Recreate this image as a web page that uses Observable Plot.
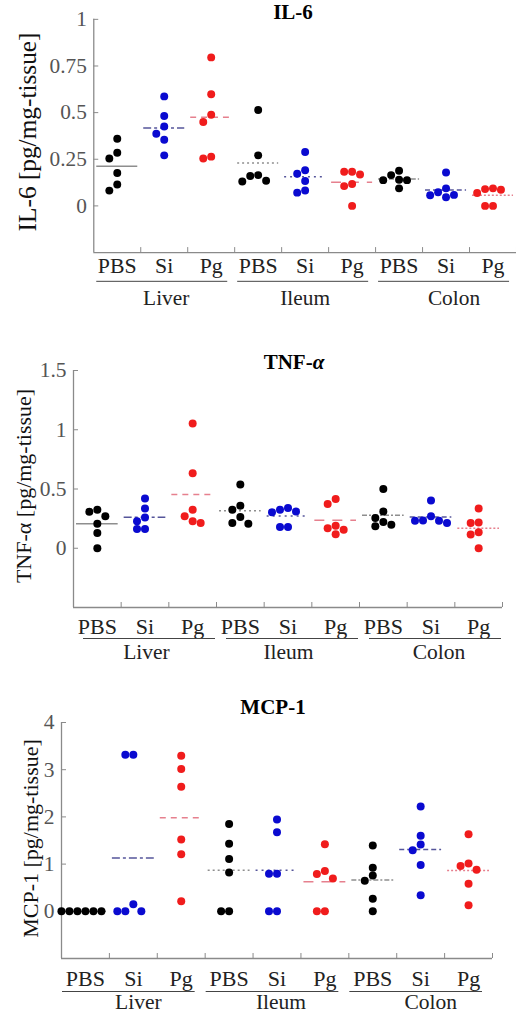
<!DOCTYPE html>
<html><head><meta charset="utf-8">
<script src="https://cdn.jsdelivr.net/npm/d3@7"></script>
<script src="https://cdn.jsdelivr.net/npm/@observablehq/plot@0.6"></script>
<style>
html,body{margin:0;padding:0;background:#fff;overflow:hidden;width:516px;height:1013px}
#root{position:relative;width:516px;height:1013px;overflow:hidden}
.panel{position:absolute;left:0}
.panel svg text{font-family:'Liberation Serif','Times New Roman',serif}
.title{position:absolute;font-family:'Liberation Serif','Times New Roman',serif;font-weight:bold;font-size:21px;line-height:1;text-align:center;width:200px;color:#000;white-space:nowrap}
</style></head><body><div id="root"></div>
<script>
// ---- categories ----
const tissues = ["Liver", "Ileum", "Colon"];
const treatments = ["PBS", "Si", "Pg"];

// ---- values (cells in order: Liver PBS, Si, Pg, Ileum PBS, Si, Pg, Colon PBS, Si, Pg) ----
const il6Values = [
  [0.36, 0.285, 0.254, 0.176, 0.115, 0.082],
  [0.587, 0.482, 0.426, 0.387, 0.355, 0.271],
  [0.796, 0.598, 0.489, 0.45, 0.264, 0.254],
  [0.514, 0.271, 0.165, 0.16, 0.135, 0.131],
  [0.289, 0.191, 0.172, 0.133, 0.083, 0.071],
  [0.183, 0.183, 0.168, 0.117, 0.106, 0.0],
  [0.188, 0.165, 0.14, 0.138, 0.138, 0.094],
  [0.179, 0.094, 0.073, 0.059, 0.057, 0.046],
  [0.094, 0.09, 0.087, 0.069, 0.0, 0.0]
];
const tnfValues = [
  [0.325, 0.308, 0.269, 0.207, 0.129, 0.0],
  [0.42, 0.336, 0.26, 0.227, 0.162, 0.162],
  [1.053, 0.633, 0.325, 0.269, 0.227, 0.213],
  [0.538, 0.359, 0.325, 0.263, 0.213, 0.207],
  [0.339, 0.325, 0.311, 0.303, 0.179, 0.179],
  [0.415, 0.373, 0.19, 0.168, 0.157, 0.118],
  [0.501, 0.311, 0.255, 0.221, 0.199, 0.185],
  [0.403, 0.269, 0.235, 0.232, 0.232, 0.213],
  [0.336, 0.218, 0.213, 0.134, 0.115, 0.0]
];
const mcpValues = [
  [0, 0, 0, 0, 0, 0],
  [3.317, 3.317, 0.148, 0, 0, 0],
  [3.296, 3.014, 2.641, 1.521, 1.211, 0.211],
  [1.852, 1.43, 1.106, 0.824, 0, 0],
  [1.944, 1.676, 0.796, 0.796, 0, 0],
  [1.423, 0.852, 0.789, 0.697, 0, 0],
  [1.394, 0.923, 0.761, 0.648, 0.268, 0],
  [2.218, 1.599, 1.415, 1.296, 0.979, 0.338],
  [1.634, 1.014, 0.958, 0.88, 0.585, 0.127]
];

// ---- tick labels & domains ----
const il6Ticks = [0, 0.25, 0.5, 0.75, 1];
const tnfTicks = [0, 0.5, 1, 1.5];
const mcpTicks = [0, 1, 2, 3, 4];
const il6Domain = [-0.25, 1];
const tnfDomain = [-0.5, 1.5];
const mcpDomain = [-1, 4];

// ---- styles ----
const dotColors = ["#000000", "#0a0ad0", "#f01c1c"];
const meanColors = ["#8e8e8e", "#55559a", "#e6808e"];
const meanDashes = ["none", "8,3,3,3", "6,5", "2,3", "2,4", "10,8", "5,2,2,2", "5,3", "2,2"];
const axisColor = "#8a8a8a";
const dotR = 4, dotStep = 8;

const panels = [
  {title: "IL-6", ylabel: "IL-6 [pg/mg-tissue]", values: il6Values, ticks: il6Ticks, domain: il6Domain,
   top: 0, width: 520, height: 320, mL: 94, mR: 0, mT: 19, frameBottom: 254,
   titleCx: 293, titleBase: 20, ylabSize: 25.5, ylabDx: -58, ylabDy: -4,
   catDy: 21, underDy: 29, underInset: [3, 7], groupDy: 53, groupDx: [2, 0, 8]},
  {title: "TNF-<i>α</i>", ylabel: "TNF-α [pg/mg-tissue]", values: tnfValues, ticks: tnfTicks, domain: tnfDomain,
   top: 330, width: 516, height: 340, mL: 73, mR: 14, mT: 40, frameBottom: 277,
   titleCx: 294, titleBase: 40, ylabSize: 22, ylabDx: -43, ylabDy: -3,
   catDy: 26, underDy: 31, underInset: [10, 1], groupDy: 51, groupDx: [1.5, 0.5, 8]},
  {title: "MCP-1", ylabel: "MCP-1 [pg/mg-tissue]", values: mcpValues, ticks: mcpTicks, domain: mcpDomain,
   top: 680, width: 516, height: 333, mL: 61, mR: 24, mT: 42, frameBottom: 278,
   titleCx: 273, titleBase: 35, ylabSize: 22, ylabDx: -24, ylabDy: -2,
   catDy: 27, underDy: 33, underInset: [1, 10], groupDy: 50, groupDx: [5, 4, 10]}
];

// simple column-swarm layout computed from the values
function spread(vals, pxPerUnit, stepPx, cellW) {
  const placed = [];
  const order = [0, -1, 1, -2, 2, -3, 3, -4, 4];
  return vals.map(v => {
    for (const c of order) {
      if (!placed.some(p => p.c === c && Math.abs(p.v - v) * pxPerUnit < stepPx - 0.5)) {
        placed.push({c, v});
        return c * stepPx / cellW;
      }
    }
    return 0;
  });
}

const root = document.getElementById("root");
const font = "'Liberation Serif','Times New Roman',serif";

panels.forEach(p => {
  const frameW = p.width - p.mL - p.mR;
  const frameH = p.frameBottom - p.mT;
  const mB = p.height - p.frameBottom;
  const cellW = frameW / 9;
  const pxPerUnit = frameH / (p.domain[1] - p.domain[0]);
  const ymin = p.domain[0];

  const rows = [], means = [], cells = [];
  p.values.forEach((vals, i) => {
    const t = i % 3;
    const offs = spread(vals, pxPerUnit, dotStep, cellW);
    vals.forEach((v, j) => rows.push({i, t, v, x: i + 0.5 + offs[j], color: dotColors[t]}));
    means.push({i, t, x1: i, x2: i + 1, y: d3.mean(vals)});
    cells.push({i, label: treatments[t]});
  });
  const groups = tissues.map((name, k) => ({name, k, start: 3 * k, end: 3 * k + 3, center: 3 * k + 1.5}));
  const bounds = d3.range(1, 10);

  const meanMarks = means.map(m => Plot.ruleY([m], {
    x1: "x1", x2: "x2", y: "y", stroke: meanColors[m.t], strokeWidth: 1.5,
    strokeDasharray: meanDashes[m.i], insetLeft: 3, insetRight: 3
  }));

  const chart = Plot.plot({
    width: p.width, height: p.height,
    marginLeft: p.mL, marginRight: p.mR, marginTop: p.mT, marginBottom: mB,
    x: {domain: [0, 9], axis: null},
    y: {domain: p.domain},
    color: {type: "identity"},
    style: {fontFamily: font, background: "transparent", overflow: "visible"},
    marks: [
      Plot.ruleX([0], {stroke: axisColor, strokeWidth: 1.3}),
      Plot.ruleY([ymin], {stroke: axisColor, strokeWidth: 1.3}),
      Plot.tickY(p.ticks, {y: d => d, stroke: axisColor, insetRight: frameW - 5}),
      Plot.tickX(bounds, {x: d => d, stroke: axisColor, insetTop: frameH - 5}),
      Plot.axisY({ticks: p.ticks, tickSize: 0, tickPadding: 7, tickFormat: d => String(d),
        fontSize: 21.5, fontFamily: font, color: "#555", label: null}),
      ...meanMarks,
      Plot.dot(rows, {x: "x", y: "v", r: dotR, fill: "color", stroke: null}),
      Plot.text(cells, {x: d => d.i + 0.5, text: "label", frameAnchor: "bottom", lineAnchor: "bottom",
        dy: p.catDy, fontSize: 22, fontFamily: font, fill: "#222"}),
      Plot.ruleY(groups, {x1: "start", x2: "end", y: () => ymin, dy: p.underDy,
        insetLeft: p.underInset[0], insetRight: p.underInset[1], stroke: "#444", strokeWidth: 1}),
      Plot.text(groups, {x: g => g.center + p.groupDx[g.k] / cellW, text: "name", frameAnchor: "bottom",
        lineAnchor: "bottom", dy: p.groupDy, fontSize: 21.5, fontFamily: font, fill: "#222"}),
      Plot.text([p.ylabel], {frameAnchor: "left", rotate: -90, textAnchor: "middle", lineAnchor: "bottom",
        dx: p.ylabDx, dy: p.ylabDy, fontSize: p.ylabSize, fontFamily: font, fill: "#111"})
    ]
  });
  const wrap = document.createElement("div");
  wrap.className = "panel";
  wrap.style.top = p.top + "px";
  wrap.appendChild(chart);
  root.appendChild(wrap);

  const t = document.createElement("div");
  t.className = "title";
  t.innerHTML = p.title;
  t.style.left = (p.titleCx - 100) + "px";
  t.style.top = (p.top + p.titleBase - 0.8375 * 21) + "px";
  root.appendChild(t);
});
</script></body></html>
